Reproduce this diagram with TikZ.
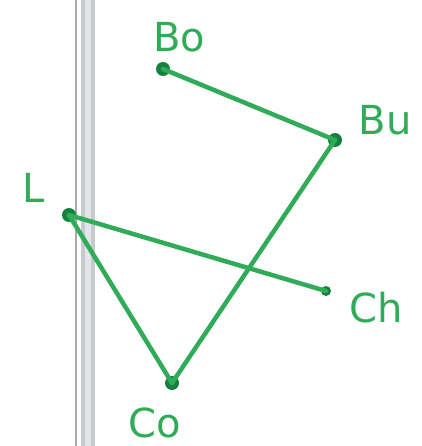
\documentclass[tikz,border=0pt]{standalone}
\usepackage{fontspec}
\setmainfont{DejaVu Sans}
\definecolor{pen}{RGB}{48,172,88}
\definecolor{dotc}{RGB}{22,128,62}
\definecolor{polel}{RGB}{196,202,206}
\definecolor{polec}{RGB}{226,230,232}
\definecolor{polethin}{RGB}{165,170,175}
\begin{document}
\begin{tikzpicture}[x=1pt,y=-1pt,
  link/.style={draw=pen,line width=4.5pt,line cap=round},
  pt/.style={circle,fill=dotc,inner sep=0pt,minimum size=14pt},
  lbl/.style={text=pen,font=\fontsize{40}{40}\selectfont,inner sep=0pt}]
\useasboundingbox (0,0) rectangle (421,446);
% pole
\fill[polel] (81,0) rectangle (95,446);
\fill[polec] (85,0) rectangle (91,446);
\draw[polethin,line width=1.8pt] (76,0) -- (76,446);
% points
\node[pt] (bo) at (163,69) {};
\node[pt] (bu) at (335,140) {};
\node[pt] (l) at (69,215) {};
\node[pt,minimum size=10pt] (ch) at (326,291) {};
\node[pt] (co) at (172,383) {};
% connectors
\draw[link] (bo.center) -- (bu.center);
\draw[link] (bu.center) -- (co.center);
\draw[link] (l.center) -- (co.center);
\draw[link] (l.center) -- (ch.center);
% labels
\node[lbl] (tbo) at (179,37) {Bo};
\node[lbl] (tbu) at (385,120) {Bu};
\node[lbl] (tl) at (34,188) {L};
\node[lbl] (tch) at (376,308) {Ch};
\node[lbl] (tco) at (155,423) {Co};
\end{tikzpicture}
\end{document}
